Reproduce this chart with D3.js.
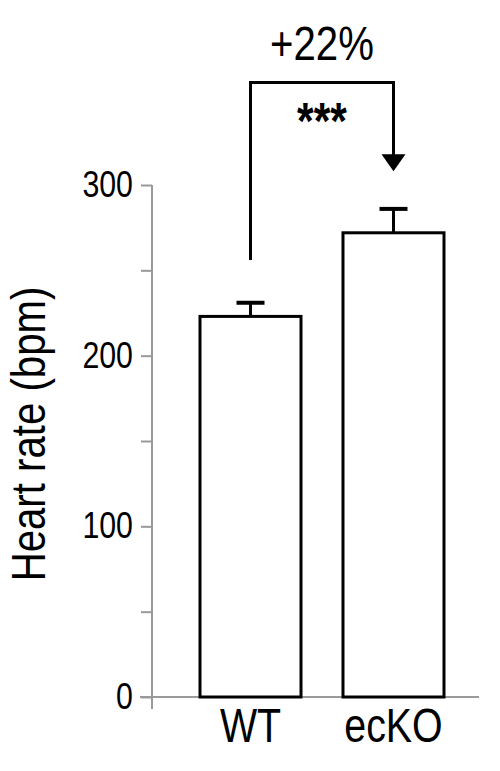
<!DOCTYPE html>
<html>
<head>
<meta charset="utf-8">
<script src="https://cdn.jsdelivr.net/npm/d3@7/dist/d3.min.js"></script>
<style>
  html, body { margin: 0; padding: 0; background: #fff; }
  svg { display: block; }
  text { font-family: "Liberation Sans", Arial, sans-serif; fill: #000; }
</style>
</head>
<body>
<svg id="chart" width="500" height="771"></svg>
<script>
// ---- data ----
const categories = ["WT", "ecKO"];
const means = [223, 272];
const errors = [8, 14];
const majorTicks = [0, 100, 200, 300];
const minorTicks = [50, 150, 250];
const yLabel = "Heart rate (bpm)";
const changeLabel = "+22%";
const sigLabel = "***";
// annotation levels (in bpm units)
const bracketTop = 360;
const wtLineBottom = 256;
const arrowTip = 308;

const svg = d3.select("#chart");
const NARROW = 0.82;

const y = d3.scaleLinear().domain([0, 300]).range([697, 185]);
const x = d3.scaleBand().domain(categories).range([179, 465])
  .paddingInner(0.2937).paddingOuter(0.1469);

const axisColor = "#9a9a9a";

// y axis
const axisX = 152;
const gAxis = svg.append("g").attr("transform", `translate(${axisX},0)`);
gAxis.call(d3.axisLeft(y).tickValues(majorTicks.concat(minorTicks)).tickSize(11).tickFormat(""));
gAxis.select(".domain").remove();
gAxis.selectAll(".tick line").attr("stroke", axisColor).attr("stroke-width", 2);
gAxis.append("line").attr("x1", 0).attr("x2", 0)
  .attr("y1", y(300)).attr("y2", y(0) + 12)
  .attr("stroke", axisColor).attr("stroke-width", 2);

// baseline
svg.append("line").attr("x1", 140).attr("x2", 479)
  .attr("y1", y(0)).attr("y2", y(0))
  .attr("stroke", axisColor).attr("stroke-width", 2);

// tick labels
svg.selectAll(".ylab").data(majorTicks).enter().append("text")
  .attr("class", "ylab")
  .attr("transform", d => `translate(133,${y(d) + 12}) scale(${NARROW},1)`)
  .attr("text-anchor", "end")
  .attr("font-size", 37)
  .text(d => d);

// y label
svg.append("text")
  .attr("transform", `translate(45,434) rotate(-90) scale(${NARROW},1)`)
  .attr("text-anchor", "middle")
  .attr("font-size", 49)
  .text(yLabel);

// bars
const data = categories.map((c, i) => ({ c, m: means[i], e: errors[i] }));
svg.selectAll(".bar").data(data).enter().append("rect")
  .attr("class", "bar")
  .attr("x", d => x(d.c))
  .attr("width", x.bandwidth())
  .attr("y", d => y(d.m))
  .attr("height", d => y(0) - y(d.m))
  .attr("fill", "#fff").attr("stroke", "#000").attr("stroke-width", 3);

// error bars
const capW = 28;
svg.selectAll(".err").data(data).enter().append("line")
  .attr("x1", d => x(d.c) + x.bandwidth() / 2).attr("x2", d => x(d.c) + x.bandwidth() / 2)
  .attr("y1", d => y(d.m)).attr("y2", d => y(d.m + d.e))
  .attr("stroke", "#000").attr("stroke-width", 3);
svg.selectAll(".cap").data(data).enter().append("line")
  .attr("x1", d => x(d.c) + x.bandwidth() / 2 - capW / 2).attr("x2", d => x(d.c) + x.bandwidth() / 2 + capW / 2)
  .attr("y1", d => y(d.m + d.e)).attr("y2", d => y(d.m + d.e))
  .attr("stroke", "#000").attr("stroke-width", 4);

// x labels
svg.selectAll(".xlab").data(categories).enter().append("text")
  .attr("transform", d => `translate(${x(d) + x.bandwidth() / 2},742) scale(${NARROW},1)`)
  .attr("text-anchor", "middle")
  .attr("font-size", 48)
  .text(d => d);

// annotation bracket
const xL = x("WT") + x.bandwidth() / 2;
const xR = x("ecKO") + x.bandwidth() / 2;
const arrowH = 17, arrowW = 24;
svg.append("path")
  .attr("d", `M${xL},${y(wtLineBottom)} V${y(bracketTop)} H${xR} V${y(arrowTip) - arrowH + 1}`)
  .attr("fill", "none").attr("stroke", "#000").attr("stroke-width", 3);
svg.append("path")
  .attr("d", `M${xR - arrowW / 2},${y(arrowTip) - arrowH} L${xR + arrowW / 2},${y(arrowTip) - arrowH} L${xR},${y(arrowTip)} Z`)
  .attr("fill", "#000");

svg.append("text")
  .attr("transform", `translate(${(xL + xR) / 2},60) scale(${NARROW},1)`)
  .attr("text-anchor", "middle")
  .attr("font-size", 49)
  .text(changeLabel);

svg.append("text")
  .attr("transform", `translate(${(xL + xR) / 2},139) scale(${NARROW},1)`)
  .attr("text-anchor", "middle")
  .attr("font-size", 52)
  .attr("font-weight", "bold")
  .text(sigLabel);
</script>
</body>
</html>
